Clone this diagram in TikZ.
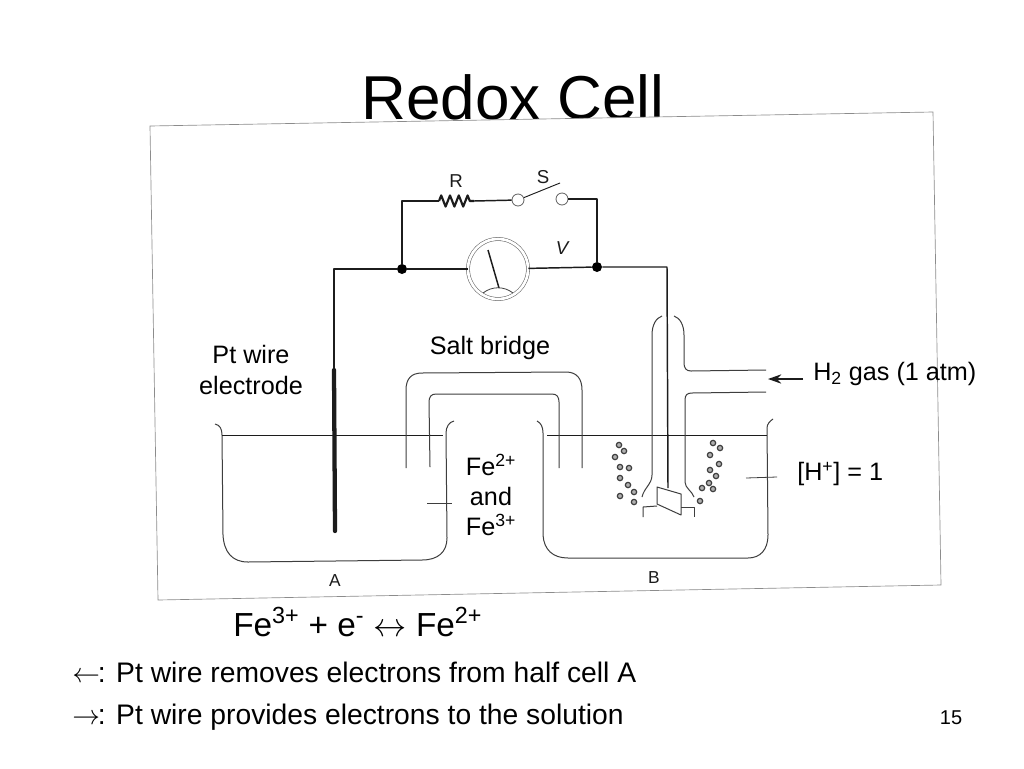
\documentclass[tikz,border=0pt]{standalone}
\usepackage{fontspec}
\usepackage{xcolor}
\usetikzlibrary{arrows.meta,decorations.pathmorphing}
\setmainfont{Liberation Sans}
\definecolor{ink}{HTML}{1C1C1C}
\definecolor{frameline}{HTML}{8C8C8C}
\tikzset{
	wire/.style = {draw = ink, line width = 1.1pt, line join = round},
	glass/.style = {draw = ink!85, line width = 0.75pt, line join = round},
	liquid/.style = {draw = ink, line width = 0.7pt},
	dot/.style = {circle, fill = black, inner sep = 0pt, minimum size = 7.5pt},
	contact/.style = {circle, draw = ink!70, fill = white, line width = 0.6pt, inner sep = 0pt, minimum size = 9pt},
	meter/.style = {circle, draw = ink!70, double = white, double distance = 2pt, line width = 0.4pt, inner sep = 0pt, minimum size = 45pt},
	bubble/.style = {circle, draw = ink!85, fill = ink!35, line width = 0.9pt, inner sep = 0pt, minimum size = 4pt},
	letter/.style = {text = ink, font = \fontsize{14}{16}\selectfont, inner sep = 0pt},
	caption/.style = {font = \fontsize{18.9}{22.6}\selectfont, align = center, inner sep = 0pt},
	bigline/.style = {font = \fontsize{21.2}{25}\selectfont, anchor = base west, inner sep = 0pt},
}
\newcommand{\bubbleNode}[2]{
	\node[bubble] (bub#1-#2) at (#1, #2) {};
}
\begin{document}
\begin{tikzpicture}[x = 0.75pt, y = -0.75pt]%

		\useasboundingbox (0, 0) rectangle (1024, 768);

		% title and photo frame
		\node[font = \fontsize{46.5}{50}\selectfont, inner sep = 0pt] (title) at (513, 97) {Redox Cell};
		\draw[draw = frameline, fill = white, line width = 0.5pt] (150, 126) -- (933, 112) -- (941, 585) -- (158, 600) -- cycle;

		% circuit
		\node[dot] (jointL) at (402, 269) {};
		\node[dot] (jointR) at (597, 267) {};
		\node[meter] (meter) at (498, 269) {};
		\node[contact] (switchL) at (518, 200) {};
		\node[contact] (switchR) at (562, 199) {};
		\coordinate (resIn) at (439, 201);
		\coordinate (resOut) at (474, 201);
		\coordinate (bladeEnd) at (560, 183);
		\coordinate (elecTop) at (334, 269);
		\coordinate (elecMid) at (334, 370);
		\coordinate (elecEnd) at (335, 531);
		\coordinate (wireCorner) at (667, 267);
		\coordinate (foilTop) at (668, 488);

		\draw[wire] (jointL) |- (resIn);
		\draw[wire, line width = 1.6pt, decorate, decoration = {zigzag, amplitude = 4.2pt, segment length = 6.6pt}] (resIn) -- (resOut);
		\draw[wire] (resOut) -- (switchL);
		\draw[wire, line width = 0.7pt] (switchL) -- (bladeEnd);
		\draw[wire] (switchR) -| (jointR);
		\draw[wire] (jointL) -- (meter);
		\draw[wire] (meter) -- (jointR);
		\draw[wire] (jointL) -- (elecTop) -- (elecMid);
		\draw[wire, line width = 3.2pt, line cap = round] (elecMid) -- (elecEnd);
		\draw[wire] (jointR) -- (wireCorner) -- (foilTop);

		% meter face
		\draw[wire] (499, 288) -- (488, 250);
		\draw[glass, line width = 0.6pt] (483, 293) .. controls (492, 286) and (504, 286) .. (513, 293);

		% beaker A
		\draw[glass] (215, 424) .. controls (220, 425) and (222, 429) .. (222, 435) -- (223, 535)
			.. controls (224, 552) and (232, 562) .. (248, 562) -- (422, 560)
			.. controls (438, 560) and (447, 552) .. (447, 538) -- (446, 433)
			.. controls (446, 427) and (449, 422) .. (454, 421);
		\draw[liquid] (222, 435) -- (443, 435);

		% beaker B
		\draw[glass] (537, 421) .. controls (541, 423) and (543, 427) .. (543, 433) -- (543, 535)
			.. controls (544, 550) and (553, 558) .. (568, 558) -- (748, 558)
			.. controls (760, 558) and (768, 550) .. (768, 535) -- (767, 428)
			.. controls (767, 424) and (770, 421) .. (773, 419);
		\draw[liquid] (547, 435) -- (767, 435);

		% salt bridge
		\draw[glass] (406, 468) -- (406, 390) .. controls (406, 379) and (411, 373) .. (422, 373)
			-- (566, 372) .. controls (577, 372) and (582, 379) .. (582, 390) -- (582, 468);
		\draw[glass] (430, 467) -- (429, 402) .. controls (429, 397) and (431, 394) .. (436, 394)
			-- (552, 394) .. controls (557, 394) and (559, 397) .. (559, 402) -- (559, 468);

		% gas tube
		\draw[glass] (642, 497) .. controls (644, 488) and (652, 484) .. (652, 475) -- (652, 335)
			.. controls (652, 325) and (656, 318) .. (662, 316);
		\draw[glass] (674, 316) .. controls (680, 318) and (684, 325) .. (684, 335) -- (684, 363)
			.. controls (684, 368) and (686, 371) .. (691, 371) -- (766, 370);
		\draw[glass] (766, 392) -- (692, 393) .. controls (687, 393) and (685, 395) .. (685, 400)
			-- (685, 482) .. controls (685, 488) and (692, 491) .. (694, 497);

		% platinum foil
		\draw[glass] (657, 487) -- (681, 494) -- (681, 515) -- (657, 504) -- cycle;
		\draw[glass] (643, 517) -- (643, 507) -- (657, 506);
		\draw[glass] (681, 507) -- (694, 507) -- (694, 517);

		% left bubbles
		\bubbleNode{619}{445}
		\bubbleNode{624}{451}
		\bubbleNode{615}{457}
		\bubbleNode{620}{467}
		\bubbleNode{629}{468}
		\bubbleNode{620}{478}
		\bubbleNode{628}{485}
		\bubbleNode{634}{492}
		\bubbleNode{620}{496}
		\bubbleNode{634}{502}

		% right bubbles
		\bubbleNode{713}{443}
		\bubbleNode{720}{448}
		\bubbleNode{710}{455}
		\bubbleNode{719}{464}
		\bubbleNode{710}{470}
		\bubbleNode{716}{476}
		\bubbleNode{709}{483}
		\bubbleNode{702}{488}
		\bubbleNode{713}{489}
		\bubbleNode{700}{501}

		% pointers
		\coordinate (tickAin) at (427, 503);
		\coordinate (tickAout) at (452, 503);
		\coordinate (tickBin) at (746, 478);
		\coordinate (tickBout) at (777, 477);
		\coordinate (gasTail) at (803, 379);
		\coordinate (gasTip) at (768, 379);
		\draw[glass, line width = 0.6pt] (tickAin) -- (tickAout);
		\draw[glass, line width = 0.6pt] (tickBin) -- (tickBout);
		\draw[wire, -{Stealth[length = 10pt, width = 7pt]}] (gasTail) -- (gasTip);

		% photo letters
		\node[letter] (letterR) at (456, 181) {R};
		\node[letter] (letterS) at (543, 177) {S};
		\node[letter, font = \fontsize{14}{16}\selectfont\itshape] (letterV) at (562, 248) {V};
		\node[letter, font = \fontsize{13}{15}\selectfont] (letterA) at (335, 581) {A};
		\node[letter, font = \fontsize{13}{15}\selectfont] (letterB) at (654, 578) {B};

		% captions
		\node[caption] (ptWire) at (251, 370) {Pt wire\\electrode};
		\node[caption] (saltBridge) at (490, 348) {Salt bridge};
		\node[caption, anchor = west] (gas) at (813, 374) {H\textsubscript{2} gas (1 atm)};
		\node[caption, anchor = west] (acid) at (797, 474) {[H\textsuperscript{+}] = 1};
		\node[caption] (ions) at (491, 495) {Fe\textsuperscript{2+}\\and\\Fe\textsuperscript{3+}};

		% text below the photo
		\node[bigline, font = \fontsize{25}{29}\selectfont] (reaction) at (233, 636) {Fe\textsuperscript{3+} + e\textsuperscript{-} $\leftrightarrow$ Fe\textsuperscript{2+}};
		\node[bigline] (lineLeft) at (72, 682) {$\leftarrow$\hspace{-1.5pt}: Pt wire removes electrons from half cell A};
		\node[bigline] (lineRight) at (72, 724) {$\rightarrow$\hspace{-1.5pt}: Pt wire provides electrons to the solution};
		\node[font = \fontsize{15}{18}\selectfont, inner sep = 0pt] (pageNo) at (951, 718) {15};

	\end{tikzpicture}
\end{document}
